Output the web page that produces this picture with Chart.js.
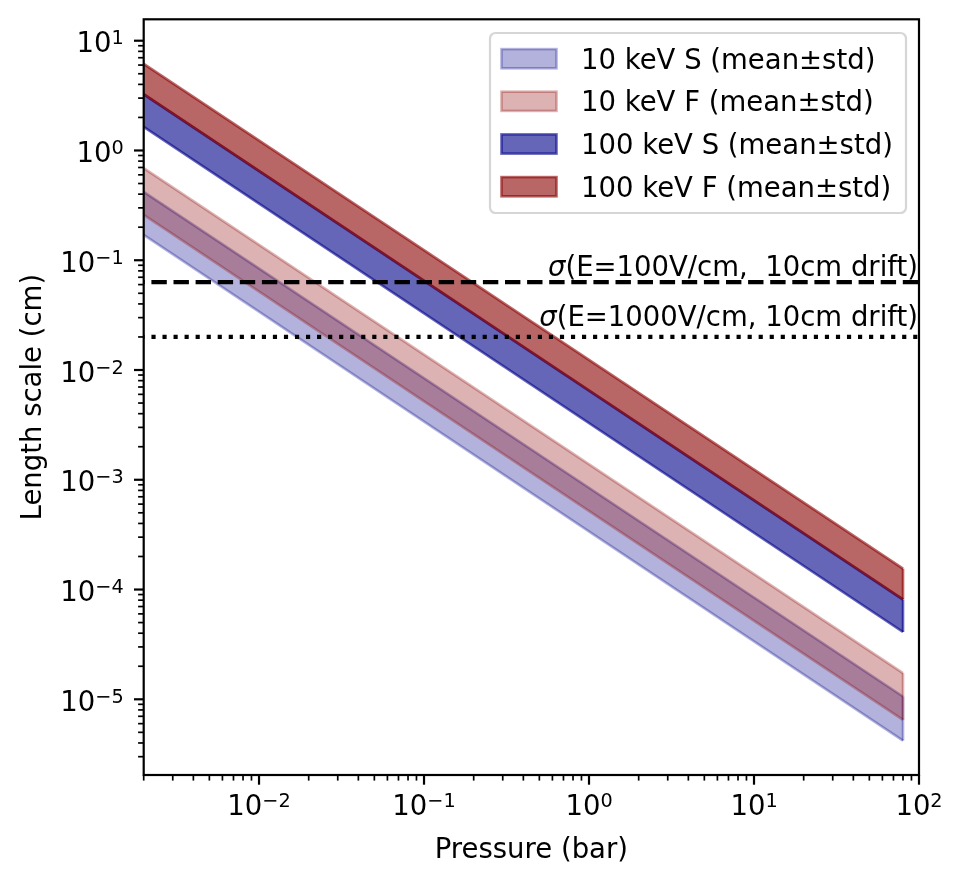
<!DOCTYPE html>
<html>
<head>
<meta charset="utf-8">
<script src="https://cdn.jsdelivr.net/npm/chart.js@4.4.1/dist/chart.umd.min.js"></script>
<style>
  html,body{margin:0;padding:0;background:#fff;}
  canvas{display:block;}
</style>
</head>
<body>
<canvas id="c" width="962" height="883"></canvas>
<script>
/* ====================== DATA ====================== */
const pressure = [0.002, 80];                 // bar
const s10Hi  = [0.42,  1.06e-5];
const s10Lo  = [0.170, 4.2e-6];
const f10Hi  = [0.69,  1.73e-5];
const f10Lo  = [0.259, 6.5e-6];
const s100Hi = [3.24,  8.1e-5];
const s100Lo = [1.64,  4.1e-5];
const f100Hi = [6.15,  1.55e-4];
const f100Lo = [3.26,  8.15e-5];

const legendLabels = ['10 keV S (mean\u00b1std)','10 keV F (mean\u00b1std)','100 keV S (mean\u00b1std)','100 keV F (mean\u00b1std)'];
const hlineY      = [0.0632, 0.02];
const hlineText   = ['(E=100V/cm,  10cm drift)','(E=1000V/cm, 10cm drift)'];
const xTickExps   = [-2,-1,0,1,2];
const yTickExps   = [-5,-4,-3,-2,-1,0,1];
const X_MIN=0.002, X_MAX=100, Y_MIN=2.043e-6, Y_MAX=15.67;

/* ====================== STYLE ===================== */
const FONT = '"DejaVu Sans"';
const FS = 27.5;
const BLUE='0,0,139', RED='139,0,0';
const rgba=(c,a)=>`rgba(${c},${a})`;
const pts=(ys)=>pressure.map((p,i)=>({x:p,y:ys[i]}));

const bands = [
  {hi:s10Hi,  lo:s10Lo,  c:BLUE, a:0.3},
  {hi:f10Hi,  lo:f10Lo,  c:RED,  a:0.3},
  {hi:s100Hi, lo:s100Lo, c:BLUE, a:0.6},
  {hi:f100Hi, lo:f100Lo, c:RED,  a:0.6},
];

const datasets=[];
let seq=0;
bands.forEach((b,i)=>{
  const col=rgba(b.c,b.a);
  datasets.push({label:legendLabels[i], data:pts(b.hi), borderColor:col, borderWidth:2.6,
    backgroundColor:col, fill:'+1', pointRadius:0, tension:0, clip:0, order:50-(seq++)});
  datasets.push({label:'', data:pts(b.lo), borderColor:col, borderWidth:2.6,
    fill:false, pointRadius:0, tension:0, clip:0, order:50-(seq++)});
});
datasets.push({label:'', data:[{x:X_MIN,y:hlineY[0]},{x:X_MAX,y:hlineY[0]}], borderColor:'#000',
  borderWidth:4.2, borderDash:[15.4,6.7], borderDashOffset:14.4, fill:false, pointRadius:0, clip:0, order:50-(seq++)});
datasets.push({label:'', data:[{x:X_MIN,y:hlineY[1]},{x:X_MAX,y:hlineY[1]}], borderColor:'#000',
  borderWidth:4.2, borderDash:[4.17,6.87], borderDashOffset:3.3, fill:false, pointRadius:0, clip:0, order:50-(seq++)});

/* =================== DECORATION =================== */
function powLabel(ctx, exp, x, y, align){
  const base='10', sup=(exp<0?'\u2212':'')+Math.abs(exp);
  ctx.font=`${FS}px ${FONT}`; const wb=ctx.measureText(base).width;
  ctx.font=`${FS*0.7}px ${FONT}`; const ws=ctx.measureText(sup).width;
  const w=wb+ws;
  let x0 = align==='center' ? x-w/2 : x-w;
  ctx.textAlign='left'; ctx.textBaseline='alphabetic'; ctx.fillStyle='#000';
  ctx.font=`${FS}px ${FONT}`; ctx.fillText(base,x0,y);
  ctx.font=`${FS*0.7}px ${FONT}`; ctx.fillText(sup,x0+wb,y-8);
}

const deco = {
  id:'deco',
  afterDraw(chart){
    const ctx=chart.ctx, xs=chart.scales.x, ys=chart.scales.y, A=chart.chartArea;
    ctx.save();

    // closing edges of the bands at the last pressure
    bands.forEach(b=>{
      const n=pressure.length-1, px=xs.getPixelForValue(pressure[n]);
      ctx.strokeStyle=rgba(b.c,b.a); ctx.lineWidth=2.6;
      ctx.beginPath(); ctx.moveTo(px,ys.getPixelForValue(b.hi[n])); ctx.lineTo(px,ys.getPixelForValue(b.lo[n])); ctx.stroke();
    });

    // hline labels
    hlineY.forEach((v,i)=>{
      const py=ys.getPixelForValue(v)-(i===0?6.5:10.5);
      ctx.font=`${FS}px ${FONT}`; const wr=ctx.measureText(hlineText[i]).width;
      ctx.font=`italic ${FS}px ${FONT}`; const ws=ctx.measureText('\u03c3').width;
      const x0=A.right-1-wr-ws;
      ctx.fillStyle='#000'; ctx.textAlign='left'; ctx.textBaseline='alphabetic';
      ctx.fillText('\u03c3',x0,py);
      ctx.font=`${FS}px ${FONT}`; ctx.fillText(hlineText[i],x0+ws,py);
    });

    // ticks
    ctx.strokeStyle='#000';
    for(let e=-3;e<=2;e++) for(let k=1;k<=9;k++){
      const v=k*Math.pow(10,e); if(v<X_MIN*0.9999||v>X_MAX*1.0001) continue;
      const px=xs.getPixelForValue(v), maj=k===1;
      ctx.lineWidth=maj?2.2:1.7;
      ctx.beginPath(); ctx.moveTo(px,A.bottom); ctx.lineTo(px,A.bottom+(maj?9.7:5.6)); ctx.stroke();
    }
    for(let e=-6;e<=1;e++) for(let k=1;k<=9;k++){
      const v=k*Math.pow(10,e); if(v<Y_MIN||v>Y_MAX) continue;
      const py=ys.getPixelForValue(v), maj=k===1;
      ctx.lineWidth=maj?2.2:1.7;
      ctx.beginPath(); ctx.moveTo(A.left,py); ctx.lineTo(A.left-(maj?9.7:5.6),py); ctx.stroke();
    }
    xTickExps.forEach(e=>powLabel(ctx,e,xs.getPixelForValue(Math.pow(10,e)),A.bottom+40,'center'));
    yTickExps.forEach(e=>powLabel(ctx,e,A.left-20,ys.getPixelForValue(Math.pow(10,e))+11.5,'right'));

    // spines
    ctx.lineWidth=2.2; ctx.strokeStyle='#000';
    ctx.strokeRect(A.left,A.top,A.right-A.left,A.bottom-A.top);

    // axis titles
    ctx.font=`${FS}px ${FONT}`; ctx.fillStyle='#000'; ctx.textAlign='center'; ctx.textBaseline='alphabetic';
    ctx.fillText('Pressure (bar)',(A.left+A.right)/2,858);
    ctx.save(); ctx.translate(41,(A.top+A.bottom)/2); ctx.rotate(-Math.PI/2);
    ctx.fillText('Length scale (cm)',0,0); ctx.restore();

    // legend
    const L={x:490,y:33,w:416,h:180,r:5.5};
    ctx.beginPath(); ctx.roundRect(L.x,L.y,L.w,L.h,L.r);
    ctx.fillStyle='rgba(255,255,255,0.8)'; ctx.fill();
    ctx.lineWidth=2.2; ctx.strokeStyle='rgba(204,204,204,0.8)'; ctx.stroke();
    const rows=[58.7,101.3,144,186.7];
    bands.forEach((b,i)=>{
      const cy=rows[i];
      ctx.fillStyle=rgba(b.c,b.a); ctx.strokeStyle=rgba(b.c,b.a); ctx.lineWidth=2.6;
      ctx.fillRect(501.5,cy-9.6,55,19.2); ctx.strokeRect(501.5,cy-9.6,55,19.2);
      ctx.fillStyle='#000'; ctx.font=`${FS}px ${FONT}`; ctx.textAlign='left';
      ctx.fillText(legendLabels[i],581,cy+9.8);
    });
    ctx.restore();
  }
};

/* ===================== CHART ====================== */
Chart.defaults.font.family=FONT;
new Chart(document.getElementById('c'),{
  type:'line',
  data:{datasets},
  options:{
    responsive:false, animation:false,
    layout:{padding:{left:143.7,top:19.3,right:43,bottom:108}},
    plugins:{legend:{display:false}, tooltip:{enabled:false}, filler:{propagate:false}},
    scales:{
      x:{type:'logarithmic', min:X_MIN, max:X_MAX, display:false},
      y:{type:'logarithmic', min:Y_MIN, max:Y_MAX, display:false}
    }
  },
  plugins:[deco]
});
</script>
</body>
</html>
